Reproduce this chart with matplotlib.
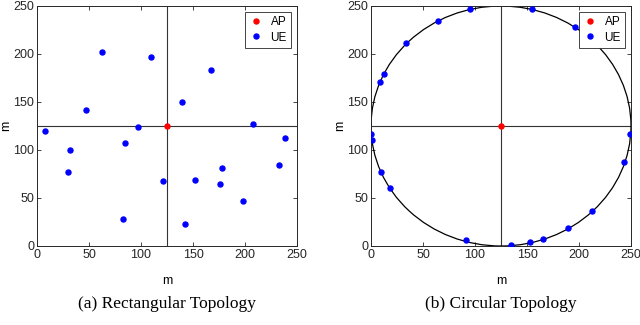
import numpy as np
import matplotlib.pyplot as plt
from matplotlib.patches import Circle

plt.rcParams['font.family'] = ['Liberation Sans', 'DejaVu Sans']

# AP position (both topologies)
ap_x = [125]
ap_y = [125]

# (a) rectangular topology UEs
rect_ue_x = [8.0, 32.1, 30.2, 47.2, 62.7, 84.2, 82.6, 97.0, 109.6, 121.5,
             139.8, 142.7, 152.0, 167.1, 176.1, 177.7, 198.3, 207.6, 232.6, 238.1]
rect_ue_y = [119.5, 100.4, 77.6, 141.3, 202.6, 107.3, 27.7, 123.6, 196.7, 68.2,
             149.9, 22.9, 68.6, 183.5, 64.7, 81.4, 46.7, 127.1, 84.5, 112.9]

# (b) circular topology UEs
circ_ue_x = [0.3, 1.0, 10.0, 17.9, 8.7, 12.2, 34.0, 64.1, 95.5, 155.1,
             196.2, 215.7, 249.5, 243.3, 212.2, 189.7, 165.7, 152.9, 134.9, 91.0]
circ_ue_y = [117.0, 110.0, 76.7, 60.8, 170.8, 178.8, 211.1, 234.7, 246.5, 246.5,
             227.8, 211.1, 116.3, 87.2, 36.8, 18.8, 7.6, 4.2, 1.0, 5.9]
radius = 125

ticks = [0, 50, 100, 150, 200, 250]
captions = ['(a) Rectangular Topology', '(b) Circular Topology']

fig = plt.figure(figsize=(6.4, 3.25), dpi=100)
ax1 = fig.add_axes([37 / 640, 1 - 246 / 325, 260 / 640, 240 / 325])
ax2 = fig.add_axes([371 / 640, 1 - 246 / 325, 260 / 640, 240 / 325])


def style_axes(ax):
    ax.set_xlim(0, 250)
    ax.set_ylim(0, 250)
    ax.set_xticks(ticks)
    ax.set_yticks(ticks)
    ax.tick_params(direction='in', top=True, right=True, labelsize=9,
                   colors='#262626', length=3, width=0.6, pad=2)
    for s in ax.spines.values():
        s.set_color('#262626')
        s.set_linewidth(0.7)
    ax.set_xlabel('m', fontsize=9, labelpad=10)
    ax.set_ylabel('m', fontsize=9, labelpad=1)
    ax.axvline(125, color='#333333', lw=0.8, zorder=1)
    ax.axhline(125, color='#333333', lw=0.8, zorder=1)


style_axes(ax1)
ax1.plot(ap_x, ap_y, 'o', color='red', ms=3.6, label='AP', zorder=3)
ax1.plot(rect_ue_x, rect_ue_y, 'o', color='blue', ms=3.6, label='UE', zorder=3)

style_axes(ax2)
ax2.add_patch(Circle((ap_x[0], ap_y[0]), radius, fill=False, color='black', lw=0.9, zorder=2))
ax2.plot(ap_x, ap_y, 'o', color='red', ms=3.6, label='AP', zorder=3)
ax2.plot(circ_ue_x, circ_ue_y, 'o', color='blue', ms=3.6, label='UE', zorder=3)

for ax in (ax1, ax2):
    leg = ax.legend(loc='upper right', fontsize=8.5, handlelength=1.2,
                    handletextpad=0.6, borderpad=0.35, labelspacing=0.3,
                    fancybox=False, framealpha=1, borderaxespad=0.5)
    leg.get_frame().set_edgecolor('#262626')
    leg.get_frame().set_linewidth(0.6)

fig.text(167 / 640, 1 - 304 / 325, captions[0], ha='center', va='center',
         fontsize=12.5, family='Liberation Serif')
fig.text(501 / 640, 1 - 304 / 325, captions[1], ha='center', va='center',
         fontsize=12.5, family='Liberation Serif')

fig.savefig('out.png', dpi=100)
